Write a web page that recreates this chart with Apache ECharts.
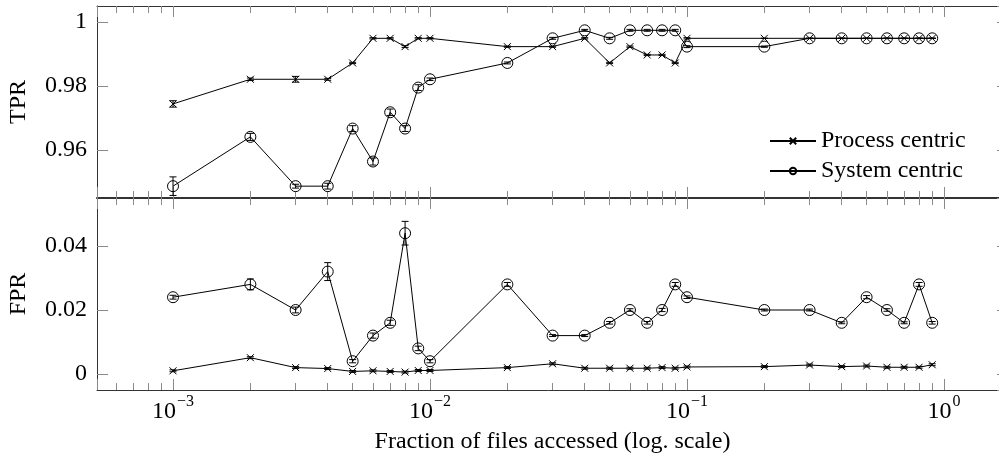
<!DOCTYPE html>
<html><head><meta charset="utf-8">
<script src="https://cdn.jsdelivr.net/npm/echarts@6/dist/echarts.min.js"></script>
<style>html,body{margin:0;padding:0;background:#fff}#c{width:999px;height:461px}</style>
</head><body><div id="c"></div>
<script>
// ---- data ----
const xValues = [0.001,0.002,0.003,0.004,0.005,0.006,0.007,0.008,0.009,0.01,
  0.02,0.03,0.04,0.05,0.06,0.07,0.08,0.09,0.1,
  0.2,0.3,0.4,0.5,0.6,0.7,0.8,0.9];
const tprProcess = [0.9744,0.9821,0.9821,0.9821,0.9872,0.9949,0.9949,0.9923,0.9949,0.9949,
  0.9923,0.9923,0.9949,0.9872,0.9923,0.9897,0.9897,0.9872,0.9949,
  0.9949,0.9949,0.9949,0.9949,0.9949,0.9949,0.9949,0.9949];
const tprSystem = [0.9487,0.9641,0.9487,0.9487,0.9667,0.9564,0.9718,0.9667,0.9795,0.9821,
  0.9872,0.9949,0.9974,0.9949,0.9974,0.9974,0.9974,0.9974,0.9923,
  0.9923,0.9949,0.9949,0.9949,0.9949,0.9949,0.9949,0.9949];
const fprProcess = [0.0010,0.0051,0.0020,0.0017,0.0008,0.0010,0.0008,0.0006,0.0011,0.0011,
  0.0020,0.0032,0.0018,0.0018,0.0018,0.0018,0.0020,0.0018,0.0022,
  0.0023,0.0028,0.0023,0.0025,0.0021,0.0021,0.0021,0.0029];
const fprSystem = [0.024,0.028,0.020,0.032,0.004,0.012,0.016,0.044,0.008,0.004,
  0.028,0.012,0.012,0.016,0.020,0.016,0.020,0.028,0.024,
  0.020,0.020,0.016,0.024,0.020,0.016,0.028,0.016];
const tprProcessErr = [0.0010,0.0004,0.0009,0.0003,0.0002,0.0002,0.0002,0.0003,0.0002,0.0002,
  0.0002,0.0002,0.0002,0.0002,0.0002,0.0002,0.0002,0.0002,0.0002,
  0,0,0,0,0,0,0,0];
const tprSystemErr = [0.0029,0.0011,0.0006,0.0009,0.0009,0.0011,0.0010,0.0009,0.0009,0.0004,
  0.0003,0.0003,0.0003,0.0003,0.0003,0.0003,0.0003,0.0003,0.0003,
  0.0002,0,0,0,0,0,0,0];
const fprProcessErr = [0.0003,0.0003,0.0003,0.0003,0.0003,0.0003,0.0003,0.0003,0.0003,0.0003,
  0.0003,0.0003,0.0003,0.0003,0.0003,0.0003,0.0003,0.0003,0.0003,
  0.0003,0.0003,0.0003,0.0003,0.0003,0.0003,0.0003,0.0003];
const fprSystemErr = [0.0006,0.0017,0.0009,0.0028,0.0005,0.0008,0.0008,0.0037,0.0007,0.0005,
  0.0006,0.0003,0.0003,0.0004,0.0004,0.0004,0.0005,0.0006,0.0004,
  0.0003,0.0003,0.0003,0.0005,0.0004,0.0003,0.0006,0.0004];
const seriesNames = ['Process centric', 'System centric'];
const panelNames = ['TPR', 'FPR'];
const xTitle = 'Fraction of files accessed (log. scale)';
const xRange = [0.0005061, 1.775];
const tprRange = [0.945, 1.005];
const fprRange = [-0.005, 0.055];

// ---- chart ----
const FONT = 'Liberation Serif';
const FS = 24;
const chart = echarts.init(document.getElementById('c'), null, {renderer: 'canvas'});
const CROSS = 'path://M0,0L10,10M0,10L10,0';
const frameColor = '#333';
const tickColor = '#8a8a8a';

function xAxis(grid, pos, labels, lw) {
  return {
    type: 'log', logBase: 10, gridIndex: grid, position: pos,
    min: xRange[0], max: xRange[1],
    axisLine: {show: true, onZero: false, lineStyle: {color: frameColor, width: lw}},
    axisTick: {show: true, inside: true, length: 11, lineStyle: {color: tickColor, width: 1}},
    minorTick: {show: true, splitNumber: 9, length: 7, lineStyle: {color: tickColor, width: 1}},
    splitLine: {show: false}, minorSplitLine: {show: false},
    axisLabel: {
      show: labels, showMinLabel: false, showMaxLabel: false, margin: 4,
      formatter: function (v) {
        const e = Math.round(Math.log10(v));
        return '{b|10}{s|' + (e < 0 ? '\u2212' + (-e) : e) + '}';
      },
      rich: {
        b: {fontFamily: FONT, fontSize: FS, color: '#000', lineHeight: 30, verticalAlign: 'bottom'},
        s: {fontFamily: FONT, fontSize: 16, color: '#000', lineHeight: 30, verticalAlign: 'top', padding: [0, 0, 0, 1]}
      }
    },
    name: labels ? xTitle : '', nameLocation: 'middle', nameGap: 40,
    nameTextStyle: {fontFamily: FONT, fontSize: FS, color: '#000'}
  };
}
function yAxis(grid, pos, range, name) {
  const left = pos === 'left';
  return {
    type: 'value', gridIndex: grid, position: pos,
    min: range[0], max: range[1], splitNumber: 3,
    axisLine: {show: left, onZero: false, lineStyle: {color: frameColor, width: 1}},
    axisTick: {show: true, inside: true, length: 11, lineStyle: {color: tickColor, width: 1}},
    splitLine: {show: false},
    axisLabel: {show: left, showMinLabel: false, showMaxLabel: false, margin: 10,
      fontFamily: FONT, fontSize: FS, color: '#000'},
    name: left ? name : '', nameLocation: 'middle', nameGap: 66, nameRotate: 90,
    nameTextStyle: {fontFamily: FONT, fontSize: FS, color: '#000'}
  };
}
function lineSeries(idx, axis, ys) {
  const proc = idx === 0;
  return {
    type: 'line', name: seriesNames[idx], xAxisIndex: axis, yAxisIndex: axis,
    data: xValues.map((x, i) => [x, ys[i]]),
    symbol: proc ? CROSS : 'circle', symbolSize: proc ? 7 : 11, showAllSymbol: true,
    lineStyle: {color: '#000', width: 1},
    itemStyle: {color: proc ? '#000' : 'rgba(0,0,0,0)', borderColor: '#000', borderWidth: 1},
    emphasis: {disabled: true}, z: 2
  };
}
function errSeries(axis, ys, es) {
  return {
    type: 'custom', xAxisIndex: axis, yAxisIndex: axis, silent: true, z: 3,
    data: xValues.map((x, i) => [x, ys[i], es[i]]),
    renderItem: function (params, api) {
      const x = api.value(0), y = api.value(1), e = api.value(2);
      const p1 = api.coord([x, y + e]), p2 = api.coord([x, y - e]);
      const hw = 3.5, st = {stroke: '#000', lineWidth: 1};
      return {type: 'group', children: [
        {type: 'line', shape: {x1: p1[0], y1: p1[1], x2: p2[0], y2: p2[1]}, style: st},
        {type: 'line', shape: {x1: p1[0] - hw, y1: p1[1], x2: p1[0] + hw, y2: p1[1]}, style: st},
        {type: 'line', shape: {x1: p2[0] - hw, y1: p2[1], x2: p2[0] + hw, y2: p2[1]}, style: st}
      ]};
    }
  };
}

chart.setOption({
  animation: false,
  backgroundColor: '#fff',
  grid: [
    {left: 97, top: 6, width: 911, height: 192, outerBoundsMode: 'none', containLabel: false},
    {left: 97, top: 198, width: 911, height: 192, outerBoundsMode: 'none', containLabel: false}
  ],
  xAxis: [xAxis(0, 'bottom', false, 2), xAxis(1, 'bottom', true, 1), xAxis(0, 'top', false, 1), xAxis(1, 'top', false, 1)],
  yAxis: [yAxis(0, 'left', tprRange, panelNames[0]), yAxis(1, 'left', fprRange, panelNames[1]),
          yAxis(0, 'right', tprRange, ''), yAxis(1, 'right', fprRange, '')],
  legend: {
    data: seriesNames, orient: 'vertical', left: 769, top: 129, padding: 0,
    itemWidth: 46, itemHeight: 8, itemGap: 6,
    textStyle: {fontFamily: FONT, fontSize: FS, color: '#000', lineHeight: 24},
    selectedMode: false
  },
  series: [
    lineSeries(0, 0, tprProcess), lineSeries(1, 0, tprSystem),
    errSeries(0, tprProcess, tprProcessErr), errSeries(0, tprSystem, tprSystemErr),
    lineSeries(0, 1, fprProcess), lineSeries(1, 1, fprSystem),
    errSeries(1, fprProcess, fprProcessErr), errSeries(1, fprSystem, fprSystemErr)
  ]
});
</script></body></html>
